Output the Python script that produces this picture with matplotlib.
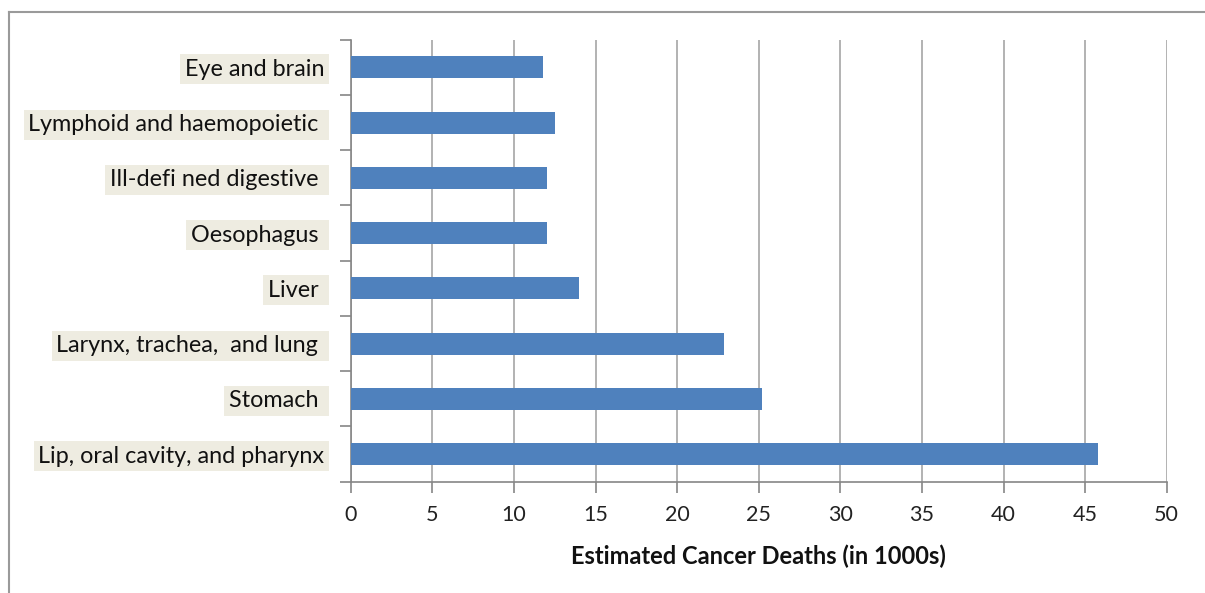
import matplotlib.pyplot as plt
from matplotlib.lines import Line2D
import numpy as np

plt.rcParams['font.family'] = ['Lato', 'DejaVu Sans']

# categories listed bottom to top
sites = ['Lip, oral cavity, and pharynx', 'Stomach ', 'Larynx, trachea,  and lung ',
         'Liver ', 'Oesophagus ', 'Ill-defi ned digestive ', 'Lymphoid and haemopoietic ',
         'Eye and brain']
deaths = [45.8, 25.2, 22.9, 14.0, 12.0, 12.0, 12.5, 11.8]
xticks = [0, 5, 10, 15, 20, 25, 30, 35, 40, 45, 50]

W, H = 1205, 593
fig = plt.figure(figsize=(W / 100, H / 100), dpi=100)
ax = fig.add_axes([350.7 / W, 1 - 481.7 / H, 816 / W, 442 / H])

y = np.arange(len(sites))
ax.barh(y, deaths, height=0.4, color='#4F81BD', zorder=3)

ax.set_xlim(0, 50)
ax.set_ylim(-0.5, len(sites) - 0.5)
ax.set_xticks(xticks)
ax.set_xticklabels([str(t) for t in xticks], fontsize=15.5, color='#222222')
ax.xaxis.grid(True, color='#A6A6A6', linewidth=1.2, zorder=0)

ax.set_yticks(y)
ax.set_yticklabels(sites, fontsize=16.8, color='#111111')
ax.set_yticks(np.arange(len(sites) + 1) - 0.5, minor=True)
ax.tick_params(axis='y', which='major', length=0, pad=19)
ax.tick_params(axis='y', which='minor', length=8, color='#868686', width=1.2)
ax.tick_params(axis='x', length=8, color='#868686', width=1.2, pad=9)
for lab in ax.get_yticklabels():
    lab.set_bbox(dict(facecolor='#EEECE1', edgecolor='none', pad=3.2))

for side in ['top', 'right']:
    ax.spines[side].set_visible(False)
for side in ['left', 'bottom']:
    ax.spines[side].set_color('#868686')
    ax.spines[side].set_linewidth(1.2)

ax.set_xlabel('Estimated Cancer Deaths (in 1000s)', fontsize=17, fontweight='bold',
              labelpad=14, color='#111111')

# outer chart frame
fig.add_artist(Line2D([9 / W, 1], [1 - 12 / H, 1 - 12 / H], color='#9A9A9A', lw=1.5,
                      transform=fig.transFigure))
fig.add_artist(Line2D([9 / W, 9 / W], [0, 1 - 12 / H], color='#9A9A9A', lw=1.5,
                      transform=fig.transFigure))

fig.savefig('out.png', dpi=100, facecolor='white')
